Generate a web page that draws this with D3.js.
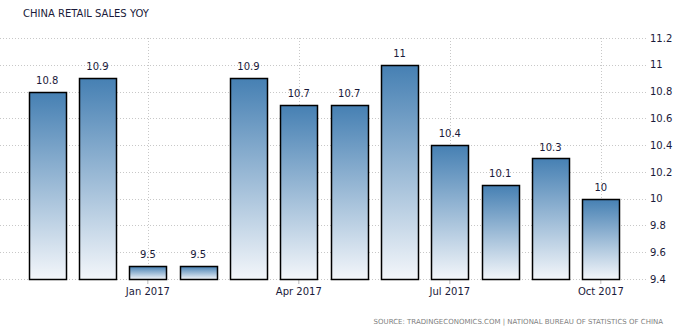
<!DOCTYPE html>
<html>
<head>
<meta charset="utf-8">
<script src="https://cdn.jsdelivr.net/npm/d3@7"></script>
<style>
body { margin: 0; background: #fff; }
svg text { font-family: "DejaVu Sans", Verdana, sans-serif; }
</style>
</head>
<body>
<div id="chart"></div>
<script>
// monthly retail sales, year over year %
var months = ["Nov 2016", "Dec 2016", "Jan 2017", "Feb 2017", "Mar 2017", "Apr 2017",
              "May 2017", "Jun 2017", "Jul 2017", "Aug 2017", "Sep 2017", "Oct 2017"];
var values = [10.8, 10.9, 9.5, 9.5, 10.9, 10.7, 10.7, 11, 10.4, 10.1, 10.3, 10];
var valueLabels = ["10.8", "10.9", "9.5", "9.5", "10.9", "10.7", "10.7", "11", "10.4", "10.1", "10.3", "10"];
var xTicks = ["Jan 2017", "Apr 2017", "Jul 2017", "Oct 2017"];
var yTicks = [9.4, 9.6, 9.8, 10, 10.2, 10.4, 10.6, 10.8, 11, 11.2];

var width = 688, height = 332;

var svg = d3.select("#chart")
    .append("svg")
    .attr("width", width)
    .attr("height", height)

var x = d3.scaleBand()
    .domain(months)
    .range([22, 626])
    .paddingInner(0.27)
    .paddingOuter(0.135)

var y = d3.scaleLinear()
    .domain([9.4, 11.2])
    .range([279, 38])

var defs = svg.append("defs")
var grad = defs.append("linearGradient")
    .attr("id", "barfill")
    .attr("x1", 0).attr("y1", 0).attr("x2", 0).attr("y2", 1)
grad.append("stop").attr("offset", "0%").attr("stop-color", "#4680b3")
grad.append("stop").attr("offset", "100%").attr("stop-color", "#f3f6fa")

// horizontal grid
svg.append("g")
    .selectAll("line")
    .data(yTicks)
    .enter().append("line")
    .attr("x1", 0)
    .attr("x2", 646)
    .attr("y1", function(d){ return Math.round(y(d)) + 0.5 })
    .attr("y2", function(d){ return Math.round(y(d)) + 0.5 })
    .attr("stroke", "#c8c8c8")
    .attr("stroke-dasharray", "1,2")

// vertical grid at labelled months
svg.append("g")
    .selectAll("line")
    .data(xTicks)
    .enter().append("line")
    .attr("x1", function(d){ return Math.round(x(d) + x.bandwidth()/2) + 0.5 })
    .attr("x2", function(d){ return Math.round(x(d) + x.bandwidth()/2) + 0.5 })
    .attr("y1", Math.round(y(11.2)))
    .attr("y2", 279)
    .attr("stroke", "#c8c8c8")
    .attr("stroke-dasharray", "1,2")

// y axis on right
var yAxis = svg.append("g")
    .attr("transform", "translate(646,0)")
    .call(d3.axisRight(y).tickValues(yTicks).tickSize(0).tickPadding(4)
        .tickFormat(function(d){ return d3.format("")(+d.toFixed(1)) }))
yAxis.select(".domain").remove()
yAxis.selectAll("text")
    .attr("font-size", 10)
    .attr("fill", "#1a1a3a")
    .attr("font-family", "DejaVu Sans, Verdana, sans-serif")

// x axis
var xAxis = svg.append("g")
    .attr("transform", "translate(0,279)")
    .call(d3.axisBottom(x).tickValues(xTicks).tickSize(5).tickPadding(4))
xAxis.select(".domain").remove()
xAxis.selectAll("line").attr("stroke", "#bbbbbb")
xAxis.selectAll("text")
    .attr("font-size", 10)
    .attr("fill", "#1a1a3a")
    .attr("font-family", "DejaVu Sans, Verdana, sans-serif")

// bars
svg.append("g")
    .selectAll("rect")
    .data(values)
    .enter().append("rect")
    .attr("x", function(d, i){ return Math.round(x(months[i])) + 0.5 })
    .attr("y", function(d){ return Math.round(y(d)) + 0.5 })
    .attr("width", Math.round(x.bandwidth()))
    .attr("height", function(d){ return Math.round(y(9.4)) - Math.round(y(d)) })
    .attr("fill", "url(#barfill)")
    .attr("stroke", "#000")
    .attr("stroke-width", 1.5)

// value labels
svg.append("g")
    .selectAll("text")
    .data(values)
    .enter().append("text")
    .attr("x", function(d, i){ return x(months[i]) + x.bandwidth()/2 })
    .attr("y", function(d){ return y(d) - 8 })
    .attr("text-anchor", "middle")
    .attr("font-size", 10)
    .attr("fill", "#1a1a3a")
    .text(function(d, i){ return valueLabels[i] })

// title
svg.append("text")
    .attr("x", 23)
    .attr("y", 17)
    .attr("font-size", 10)
    .attr("fill", "#1a1a3a")
    .text("CHINA RETAIL SALES YOY")

// source
svg.append("text")
    .attr("x", 663)
    .attr("y", 324)
    .attr("text-anchor", "end")
    .attr("font-size", 7)
    .attr("fill", "#808080")
    .text("SOURCE: TRADINGECONOMICS.COM | NATIONAL BUREAU OF STATISTICS OF CHINA")
</script>
</body>
</html>
